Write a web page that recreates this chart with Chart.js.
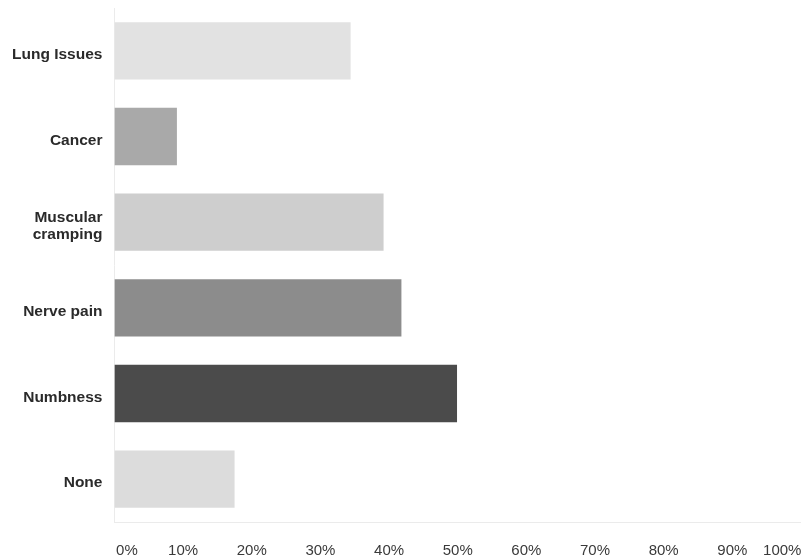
<!DOCTYPE html>
<html>
<head>
<meta charset="utf-8">
<script src="https://cdn.jsdelivr.net/npm/chart.js@4"></script>
<style>
  html, body { margin: 0; padding: 0; background: #fff; }
  #wrap { width: 801px; height: 560px; }
</style>
</head>
<body>
<div id="wrap"><canvas id="symptomChart"></canvas></div>
<script>
// Data
const categories = ["Lung Issues", "Cancer", ["Muscular", "cramping"], "Nerve pain", "Numbness", "None"]
const percentages = [34.4, 9.1, 39.2, 41.8, 49.9, 17.5]
const barColors = ["#e2e2e2", "#a9a9a9", "#cecece", "#8c8c8c", "#4b4b4b", "#dcdcdc"]
const tickValues = [0, 10, 20, 30, 40, 50, 60, 70, 80, 90, 100]

const ctx = document.getElementById("symptomChart")

new Chart(ctx, {
  type: "bar",
  data: {
    labels: categories,
    datasets: [
      {
        data: percentages,
        backgroundColor: barColors,
        borderWidth: 0,
        barPercentage: 0.67,
        categoryPercentage: 1,
      },
    ],
  },
  options: {
    indexAxis: "y",
    responsive: true,
    maintainAspectRatio: false,
    animation: false,
    layout: { padding: { top: 8, right: 0, bottom: 0, left: 0 } },
    plugins: {
      legend: { display: false },
      tooltip: { enabled: false },
    },
    scales: {
      x: {
        min: 0,
        max: 100,
        afterBuildTicks: (scale) => {
          scale.ticks = tickValues.map((v) => ({ value: v }))
        },
        // keep the plot running to the right edge like the original
        afterFit: (scale) => {
          scale.paddingLeft = 0
          scale.paddingRight = 0
          scale.height = 38
        },
        grid: { display: false, drawTicks: false },
        border: { display: true, color: "#ebebeb", width: 1 },
        ticks: {
          autoSkip: false,
          maxRotation: 0,
          padding: 20,
          color: "#3a3a3a",
          font: { family: "'Liberation Sans', Arial, sans-serif", size: 15 },
          callback: (value) => {
            if (value === 0) return "      0%"
            if (value === 100) return "100%         "
            return value + "%"
          },
        },
      },
      y: {
        afterFit: (scale) => {
          scale.paddingTop = 0
          scale.paddingBottom = 0
        },
        grid: { display: false, drawTicks: false },
        border: { display: true, color: "#ebebeb", width: 1 },
        ticks: {
          padding: 12,
          labelOffset: 4,
          color: "#2a2a2a",
          font: { family: "'Liberation Sans', Arial, sans-serif", size: 15.5, weight: "bold", lineHeight: 1.1 },
        },
      },
    },
  },
})
</script>
</body>
</html>
